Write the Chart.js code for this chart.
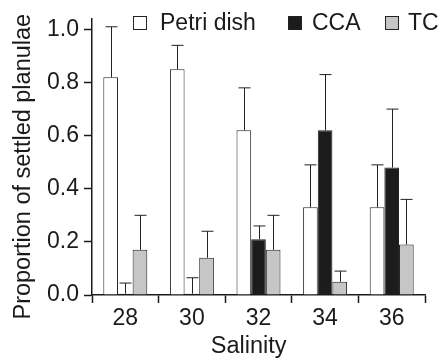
<!DOCTYPE html>
<html>
<head>
<meta charset="utf-8">
<script src="https://cdn.jsdelivr.net/npm/chart.js@4.4.1/dist/chart.umd.min.js"></script>
<style>
  html, body { margin: 0; padding: 0; background: #fff; }
</style>
</head>
<body>
<canvas id="chart" width="441" height="361"></canvas>
<script>
// settlement proportions per salinity, with upper error (SE)
const salinity = ['28', '30', '32', '34', '36'];
const petriMean = [0.82, 0.85, 0.62, 0.33, 0.33];
const petriErr = [0.19, 0.09, 0.16, 0.16, 0.16];
const ccaMean = [0.005, 0.005, 0.21, 0.62, 0.48];
const ccaErr = [0.04, 0.06, 0.05, 0.21, 0.22];
const tcMean = [0.17, 0.14, 0.17, 0.05, 0.19];
const tcErr = [0.13, 0.10, 0.13, 0.04, 0.17];
const yTicks = [0, 0.2, 0.4, 0.6, 0.8, 1.0];

const ink = '#1a1a1a';
const fontFamily = "'Liberation Sans', Arial, Helvetica, sans-serif";
Chart.defaults.font.family = fontFamily;
Chart.defaults.color = ink;

// one-sided error bars with a cap, drawn on top of each bar
const errorBars = {
  id: 'errorBars',
  afterDatasetsDraw(chart) {
    const ctx = chart.ctx;
    const yScale = chart.scales.y;
    ctx.save();
    ctx.strokeStyle = '#222';
    ctx.lineWidth = 1;
    chart.data.datasets.forEach((ds, i) => {
      chart.getDatasetMeta(i).data.forEach((bar, j) => {
        const top = yScale.getPixelForValue(ds.data[j] + ds.errors[j]);
        const x = Math.round(bar.x) + 0.5;
        ctx.beginPath();
        ctx.moveTo(x, bar.y);
        ctx.lineTo(x, top);
        ctx.moveTo(x - 6, top);
        ctx.lineTo(x + 6, top);
        ctx.stroke();
      });
    });
    ctx.restore();
  }
};

// legend row across the top of the plot
const topLegend = {
  id: 'topLegend',
  afterDraw(chart) {
    const ctx = chart.ctx;
    const slots = [[133, 160], [288, 312], [385, 408]];
    ctx.save();
    ctx.font = '23px ' + fontFamily;
    ctx.textBaseline = 'alphabetic';
    ctx.lineWidth = 1;
    chart.data.datasets.forEach((ds, i) => {
      const [bx, tx] = slots[i];
      ctx.fillStyle = ds.backgroundColor;
      ctx.fillRect(bx, 16, 14, 14);
      ctx.strokeStyle = '#222';
      ctx.strokeRect(bx + 0.5, 16.5, 13, 13);
      ctx.fillStyle = ink;
      ctx.fillText(ds.label, tx, 30);
    });
    ctx.restore();
  }
};

const barStyle = {
  borderColor: '#222',
  borderWidth: 1,
  categoryPercentage: 0.66,
  barPercentage: 1.0
};

new Chart(document.getElementById('chart'), {
  type: 'bar',
  data: {
    labels: salinity,
    datasets: [
      { label: 'Petri dish', data: petriMean, errors: petriErr, backgroundColor: '#ffffff', ...barStyle },
      { label: 'CCA', data: ccaMean, errors: ccaErr, backgroundColor: '#1c1c1c', ...barStyle },
      { label: 'TC', data: tcMean, errors: tcErr, backgroundColor: '#c6c6c6', ...barStyle }
    ]
  },
  options: {
    responsive: false,
    animation: false,
    devicePixelRatio: 1,
    layout: { padding: { top: 18, right: 16, left: 0, bottom: 0 } },
    plugins: {
      legend: { display: false },
      tooltip: { enabled: false }
    },
    scales: {
      x: {
        offset: true,
        grid: { offset: true, drawOnChartArea: false, tickLength: 8, tickWidth: 1.5, tickColor: ink },
        border: { color: ink, width: 1.5 },
        ticks: { font: { size: 23 }, padding: 2 },
        title: { display: true, text: 'Salinity   ', font: { size: 23.5 }, padding: { top: 0, bottom: 0 } },
        afterFit(s) { s.height = 66; }
      },
      y: {
        min: 0,
        max: 1.04,
        afterBuildTicks(s) { s.ticks = yTicks.map(v => ({ value: v })); },
        grid: { drawOnChartArea: false, tickLength: 8, tickWidth: 1.5, tickColor: ink },
        border: { color: ink, width: 1.5 },
        ticks: { font: { size: 23 }, padding: 5, callback: v => v.toFixed(1) },
        title: { display: true, text: 'Proportion of settled planulae   ', font: { size: 23.5 }, padding: { top: 9, bottom: 0 } },
        afterFit(s) { s.width = 92; }
      }
    }
  },
  plugins: [errorBars, topLegend]
});
</script>
</body>
</html>
